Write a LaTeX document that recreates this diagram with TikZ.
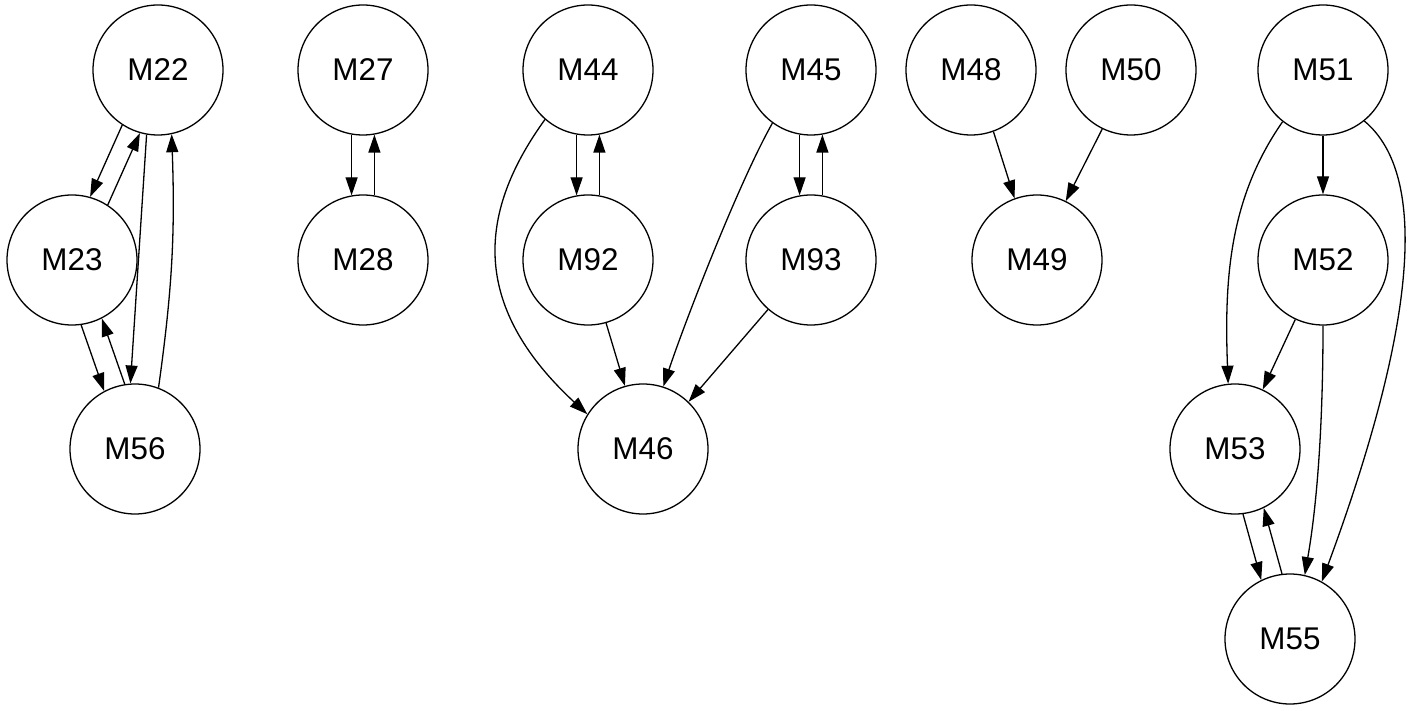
\documentclass[tikz,border=0pt]{standalone}
\usepackage{fontspec}
\setmainfont{Liberation Sans}
\usetikzlibrary{arrows.meta}
\begin{document}
\begin{tikzpicture}[x=0.5pt,y=-0.5pt,
  mnode/.style={draw=black,circle,line width=0.65pt,minimum size=65pt,inner sep=0pt,
    font=\fontsize{15.7}{18}\selectfont},
  edge/.style={line width=0.65pt,-{Triangle[length=9pt,width=6pt]}}]
\useasboundingbox (0,0) rectangle (1420,711);
% nodes
\node[mnode] (M22) at (158,70) {M22};
\node[mnode] (M23) at (72,260) {M23};
\node[mnode] (M56) at (135,449) {M56};
\node[mnode] (M27) at (363,70) {M27};
\node[mnode] (M28) at (363,260) {M28};
\node[mnode] (M44) at (588,70) {M44};
\node[mnode] (M92) at (588,260) {M92};
\node[mnode] (M45) at (811,70) {M45};
\node[mnode] (M93) at (811,260) {M93};
\node[mnode] (M46) at (643,449) {M46};
\node[mnode] (M48) at (971,70) {M48};
\node[mnode] (M50) at (1131,70) {M50};
\node[mnode] (M49) at (1037,260) {M49};
\node[mnode] (M51) at (1323,70) {M51};
\node[mnode] (M52) at (1323,260) {M52};
\node[mnode] (M53) at (1235,449) {M53};
\node[mnode] (M55) at (1290,639) {M55};
% group 1
\draw[edge] (M22.237) -- (M23.74);
\draw[edge] (M23.57) -- (M22.254);
\draw[edge] (M22.260) -- (M56.94);
\draw[edge] (M56.69) to[bend right=5] (M22.282);
\draw[edge] (M23.278) -- (M56.118);
\draw[edge] (M56.99) -- (M23.297);
% group 2
\draw[edge] (M27.260) -- (M28.100);
\draw[edge] (M28.80) -- (M27.280);
% group 3
\draw[edge] (M44.260) -- (M92.100);
\draw[edge] (M92.80) -- (M44.280);
\draw[edge] (M45.260) -- (M93.100);
\draw[edge] (M93.80) -- (M45.280);
\draw[edge] (M44.229) .. controls +(-65,90) and +(-120,-111) .. (M46.148);
\draw[edge] (M45.234) .. controls +(-35,62) and +(20,-60) .. (M46.72);
\draw[edge] (M92.286) -- (M46.106);
\draw[edge] (M93.229) -- (M46.46);
% group 4
\draw[edge] (M48.290) -- (M49.110);
\draw[edge] (M50.244) -- (M49.64);
% group 5
\draw[edge] (M51.south) -- (M52.north);
\draw[edge] (M51.232) .. controls +(-53,76) and +(-4,-106) .. (M53.96);
\draw[edge] (M51.309) .. controls +(66,55) and +(93,-252) .. (M55.61);
\draw[edge] (M52.245) -- (M53.65);
\draw[edge] (M52.270) .. controls +(0,94) and +(13,-75) .. (M55.77);
\draw[edge] (M53.277) -- (M55.116);
\draw[edge] (M55.97) -- (M53.296);
\end{tikzpicture}
\end{document}
